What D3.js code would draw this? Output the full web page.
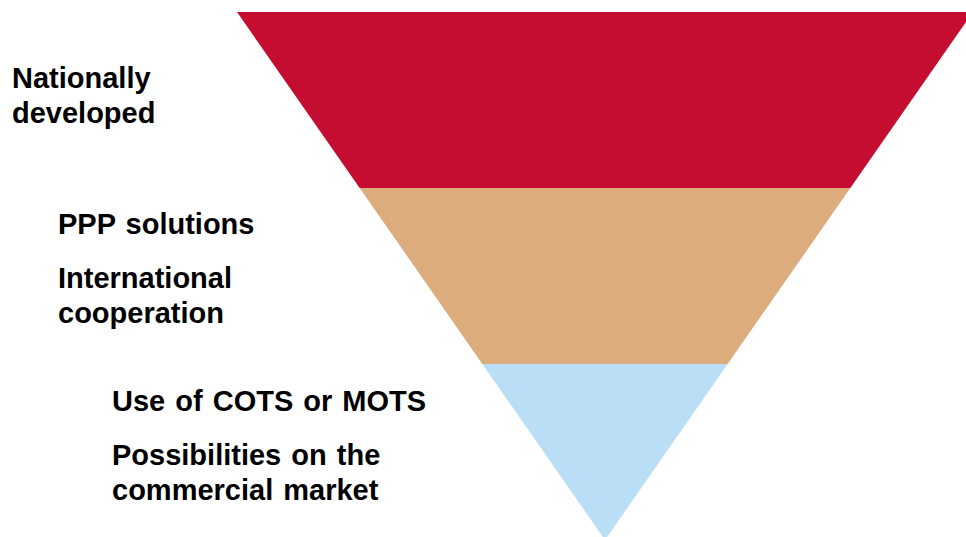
<!DOCTYPE html>
<html>
<head>
<meta charset="utf-8">
<script src="https://cdn.jsdelivr.net/npm/d3@7"></script>
<style>
  html, body { margin: 0; padding: 0; background: #fff; }
  svg { display: block; }
  .label { font-family: "Liberation Sans", Arial, sans-serif; font-weight: bold; font-size: 29px; fill: #000; word-spacing: 2px; }
</style>
</head>
<body>
<svg id="canvas"></svg>
<script>
// levels of the funnel, top to bottom
const levels = ["Nationally developed", "Partnership", "Commercial"];
const levelColors = ["#C50D31", "#DDAC7C", "#BBDEF7"];

// text blocks next to each level (each entry is a list of lines)
const levelLabels = [
  [["Nationally", "developed"]],
  [["PPP solutions"], ["International", "cooperation"]],
  [["Use of COTS or MOTS"], ["Possibilities on the", "commercial market"]]
];

const width = 966;
const height = 537;

const canvas = d3.select("#canvas")
  .attr("width", width)
  .attr("height", height);

// vertical scale: level index -> y
const yScale = d3.scaleLinear()
  .domain([0, levels.length])
  .range([12, 540]);

// half width of the funnel at a given depth
const halfWidth = d3.scaleLinear()
  .domain([0, levels.length])
  .range([368, 0]);

const centerX = 605;

const bands = levels.map((name, i) => {
  const y0 = yScale(i), y1 = yScale(i + 1);
  return {
    name: name,
    color: levelColors[i],
    points: [
      [centerX - halfWidth(i), y0],
      [centerX + halfWidth(i), y0],
      [centerX + halfWidth(i + 1), y1],
      [centerX - halfWidth(i + 1), y1]
    ]
  };
});

canvas.selectAll("path.band")
  .data(bands)
  .enter()
  .append("path")
  .attr("class", "band")
  .attr("fill", d => d.color)
  .attr("d", d => d3.line()(d.points) + "Z");

// label layout: left offset per level, first baseline, gap between blocks
const labelX = [12, 58, 112];
const firstBaseline = [88, 234, 411];
const lineHeight = 35;
const blockGap = 19;

levelLabels.forEach((blocks, i) => {
  let y = firstBaseline[i];
  blocks.forEach(lines => {
    lines.forEach(line => {
      canvas.append("text")
        .attr("class", "label")
        .attr("x", labelX[i])
        .attr("y", y)
        .text(line);
      y += lineHeight;
    });
    y += blockGap;
  });
});
</script>
</body>
</html>
